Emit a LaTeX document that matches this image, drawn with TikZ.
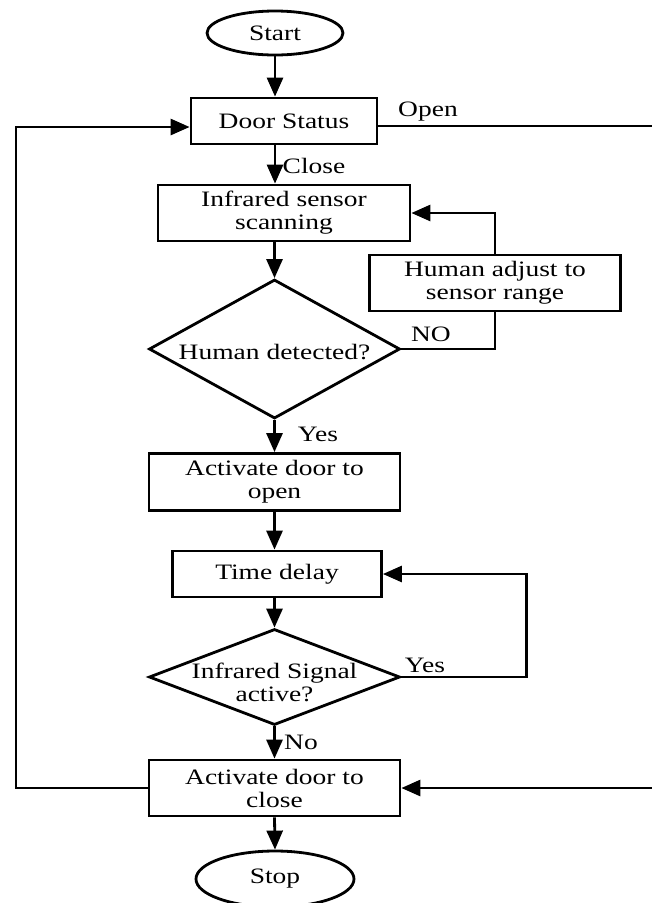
\documentclass[tikz,border=0pt]{standalone}
\usepackage{fontspec}
\setmainfont{Liberation Serif}[FakeStretch=1.25]
\usetikzlibrary{shapes.geometric,arrows.meta}
\newcommand{\fsz}{\fontsize{22}{23}\selectfont}
\begin{document}
\begin{tikzpicture}[x=1pt,y=-1pt,line width=2.8pt,
  box/.style={draw,rectangle,inner sep=0pt,align=center,font=\fsz},
  term/.style={draw,ellipse,inner sep=0pt,font=\fsz},
  dia/.style={draw,diamond,inner sep=0pt},
  txt/.style={align=center,font=\fsz,inner sep=0pt},
  arr/.style={-{Triangle[length=19pt,width=16pt]}},
  lbl/.style={font=\fsz,inner sep=0pt}]
\useasboundingbox (0,0) rectangle (652,903);
\node[term,minimum width=136pt,minimum height=44pt] (start) at (275,33) {Start};
\node[box,minimum width=186pt,minimum height=46pt] (door) at (284,121) {Door Status};
\node[box,minimum width=252pt,minimum height=56pt] (ir) at (284,213) {Infrared sensor\\scanning};
\node[box,minimum width=251pt,minimum height=56pt] (adj) at (495,283) {Human adjust to\\sensor range};
\node[dia,minimum width=251pt,minimum height=139pt] (hd) at (274.5,349) {};
\node[txt] (hdt) at (274.5,352) {Human detected?};
\node[box,minimum width=251pt,minimum height=57pt] (open) at (274.5,482) {Activate door to\\open};
\node[box,minimum width=209pt,minimum height=46pt] (delay) at (277,574) {Time delay};
\node[dia,minimum width=251pt,minimum height=96pt] (sig) at (274.5,677) {};
\node[txt] (sigt) at (274.5,682) {Infrared Signal\\active?};
\node[box,minimum width=251pt,minimum height=56pt] (close) at (274.5,788) {Activate door to\\close};
\node[term,minimum width=158pt,minimum height=56pt] (stop) at (275,879) {Stop};
\coordinate (oe) at (652,126);
\coordinate (ce) at (652,788);
\coordinate (lc) at (16,788);
% main flow
\draw[arr] (start.south) -- (start.south |- door.north);
\draw[arr] (door.south -| start) -- (ir.north -| start);
\draw[arr] (ir.south -| hd) -- (hd.north);
\draw[arr] (hd.south) -- (open.north);
\draw[arr] (open.south) -- (delay.north -| open);
\draw[arr] (delay.south -| sig) -- (sig.north);
\draw[arr] (sig.south) -- (close.north);
\draw[arr] (close.south) -- (stop.north);
% loops
\draw (hd.east) -| (adj.south);
\draw[arr] (adj.north) |- (ir.east);
\draw[arr] (sig.east) -- ++(125,0) |- (delay.east);
\draw[arr] (close.west) -- (lc) |- ([yshift=-6pt]door.west);
\draw ([yshift=-5pt]door.east) -- (oe);
\draw[arr] (ce) -- (close.east);
% labels
\node[lbl] (lopen) at (428,112) {Open};
\node[lbl] (lclose) at (314,166) {Close};
\node[lbl] (lno) at (431,334) {NO};
\node[lbl] (lyes1) at (318,434) {Yes};
\node[lbl] (lyes2) at (425,665) {Yes};
\node[lbl] (lno2) at (301,742) {No};
\end{tikzpicture}
\end{document}
